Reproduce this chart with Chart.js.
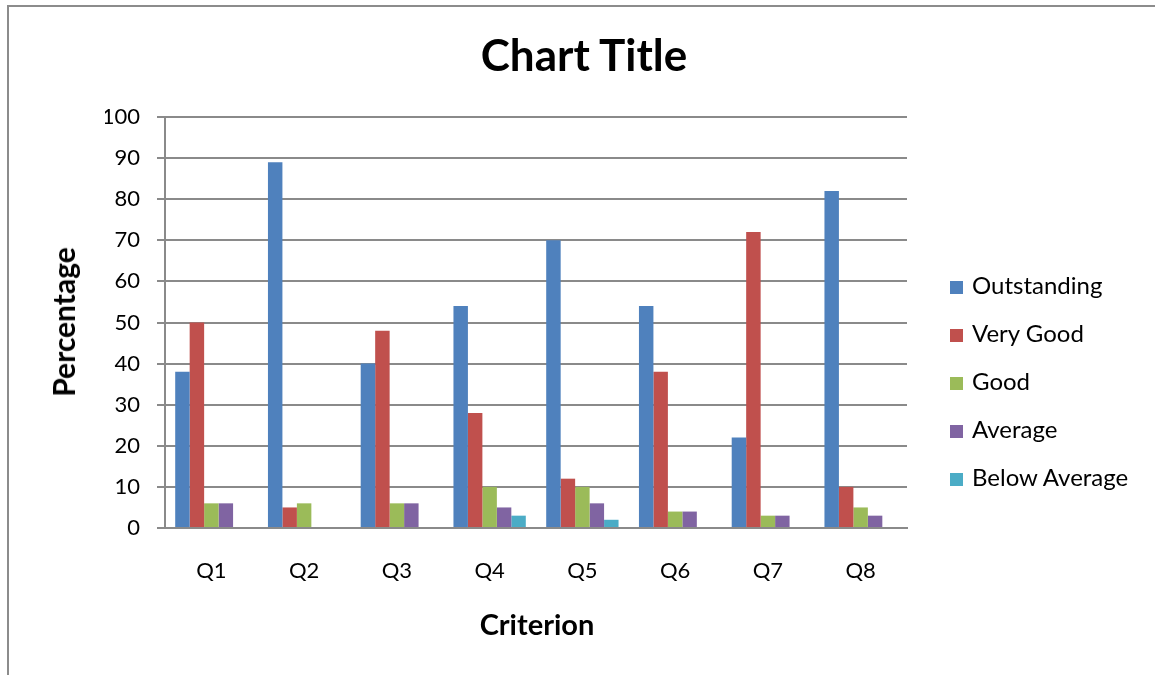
<!DOCTYPE html>
<html>
<head>
<meta charset="utf-8">
<title>Chart Title</title>
<script src="https://cdn.jsdelivr.net/npm/chart.js@4.4.1/dist/chart.umd.min.js"></script>
<style>
  body { margin: 0; background: #fff; }
  #wrap { position: relative; width: 1155px; height: 675px; overflow: hidden; font-family: Lato, "Open Sans", sans-serif; color: #000; }
  #frame { position: absolute; left: 7px; top: 5px; width: 1200px; height: 700px;
           border-left: 2px solid #8c8c8c; border-top: 2px solid #8c8c8c; }
  #chart { position: absolute; left: 0; top: 0; }
  .ttl { position: absolute; font-weight: bold; line-height: 1; white-space: nowrap; transform: translate(-50%, -50%); }
  #title { left: 584px; top: 54px; font-size: 44px; }
  #ytitle { left: 63px; top: 322px; font-size: 30px; transform: translate(-50%, -50%) rotate(-90deg); }
  #xtitle { left: 537px; top: 623px; font-size: 29px; }
  #legend { position: absolute; left: 950px; top: 270px; font-size: 24px; }
  .item { height: 48px; display: flex; align-items: flex-start; }
  .swatch { width: 13px; height: 13px; margin: 11px 9px 0 0; }
</style>
</head>
<body>
<div id="wrap">
  <div id="frame"></div>
  <canvas id="chart" width="1155" height="675"></canvas>
  <div class="ttl" id="title">Chart Title</div>
  <div class="ttl" id="ytitle">Percentage</div>
  <div class="ttl" id="xtitle">Criterion</div>
  <div id="legend"></div>
</div>
<script>
const categories = ["Q1", "Q2", "Q3", "Q4", "Q5", "Q6", "Q7", "Q8"];
const seriesNames = ["Outstanding", "Very Good", "Good", "Average", "Below Average"];
const seriesColors = ["#4F81BD", "#C0504D", "#9BBB59", "#8064A2", "#4BACC6"];

const outstanding = [38, 89, 40, 54, 70, 54, 22, 82];
const veryGood = [50, 5, 48, 28, 12, 38, 72, 10];
const good = [6, 6, 6, 10, 10, 4, 3, 5];
const average = [6, 0, 6, 5, 6, 4, 3, 3];
const belowAverage = [0, 0, 0, 3, 2, 0, 0, 0];

const yTicks = [0, 10, 20, 30, 40, 50, 60, 70, 80, 90, 100];

const seriesValues = [outstanding, veryGood, good, average, belowAverage];
const gridGray = "#8a8a8a";
const font = "Lato, 'Open Sans', sans-serif";

// legend as html, same look as the excel one
const legendEl = document.getElementById("legend");
seriesNames.forEach((name, i) => {
  const row = document.createElement("div");
  row.className = "item";
  const sw = document.createElement("span");
  sw.className = "swatch";
  sw.style.background = seriesColors[i];
  const label = document.createElement("span");
  label.textContent = name;
  row.appendChild(sw);
  row.appendChild(label);
  legendEl.appendChild(row);
});

const ctx = document.getElementById("chart").getContext("2d");
const chart = new Chart(ctx, {
  type: "bar",
  data: {
    labels: categories,
    datasets: seriesNames.map((name, i) => ({
      label: name,
      data: seriesValues[i],
      backgroundColor: seriesColors[i],
      categoryPercentage: 0.78,
      barPercentage: 1
    }))
  },
  options: {
    responsive: false,
    animation: false,
    layout: { padding: { left: 105, right: 248, top: 117, bottom: 87 } },
    plugins: {
      legend: { display: false },
      tooltip: { enabled: false },
      title: { display: false }
    },
    scales: {
      x: {
        grid: { display: false },
        border: { color: gridGray, width: 2 },
        ticks: { color: "#000", font: { family: font, size: 22 }, padding: 22, maxRotation: 0 },
        afterFit: (axis) => { axis.height = 60; } // fixed so plot bottom sits where excel put it
      },
      y: {
        min: 0,
        max: 100,
        afterBuildTicks: (axis) => { axis.ticks = yTicks.map(v => ({ value: v })); },
        grid: { color: gridGray, lineWidth: 2, tickLength: 8 },
        border: { color: gridGray, width: 2 },
        ticks: { color: "#000", font: { family: font, size: 22 }, padding: 17 },
        afterFit: (axis) => { axis.width = 60; }
      }
    }
  }
});
</script>
</body>
</html>
